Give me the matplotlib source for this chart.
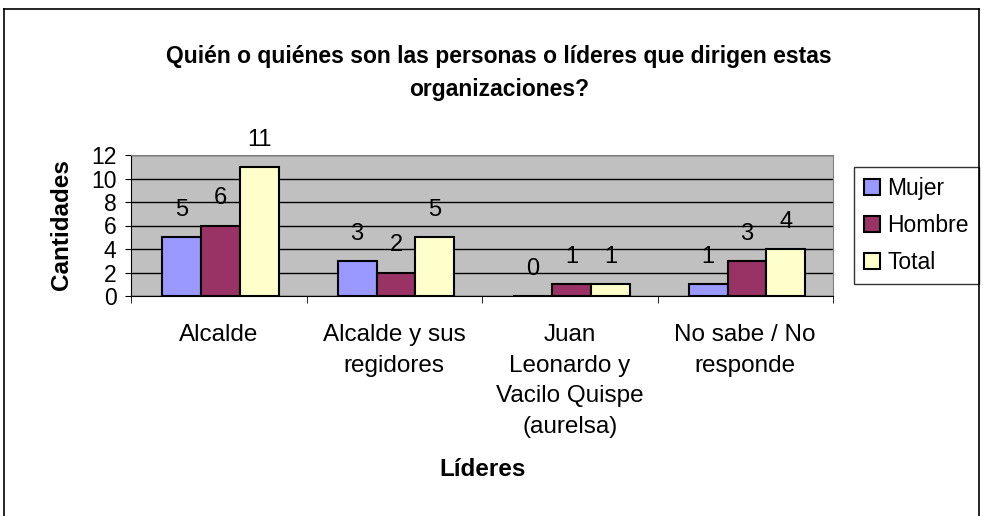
import matplotlib.pyplot as plt
import numpy as np
from matplotlib.lines import Line2D

plt.rcParams['font.family'] = ['Liberation Sans', 'DejaVu Sans']

# data
categories = ['Alcalde', 'Alcalde y sus\nregidores', 'Juan\nLeonardo y\nVacilo Quispe\n(aurelsa)', 'No sabe / No\nresponde']
mujer = [5, 3, 0, 1]
hombre = [6, 2, 1, 3]
total = [11, 5, 1, 4]
series_names = ['Mujer', 'Hombre', 'Total']
colors = ['#9999FF', '#993366', '#FFFFCC']

fig = plt.figure(figsize=(9.83, 5.16), dpi=100)

# outer chart border (left, top, right)
fig.add_artist(Line2D([4 / 983, 4 / 983], [0, 1 - 9 / 516], color='black', lw=1.2))
fig.add_artist(Line2D([4 / 983, 979 / 983], [1 - 9 / 516, 1 - 9 / 516], color='black', lw=1.2))
fig.add_artist(Line2D([979 / 983, 979 / 983], [0, 1 - 9 / 516], color='black', lw=1.2))

ax = fig.add_axes([131 / 983, 1 - 296 / 516, 702 / 983, 141 / 516])
ax.set_facecolor('#C0C0C0')

x = np.arange(len(categories))
w = 0.222
for i, (vals, name, c) in enumerate(zip([mujer, hombre, total], series_names, colors)):
    pos = x + (i - 1) * w + 0.01
    ax.bar(pos, vals, w, color=c, edgecolor='black', linewidth=1.5, label=name, zorder=3)
    for p, v in zip(pos, vals):
        ax.annotate(str(v), (p, v), xytext=(0, 19.5), textcoords='offset points',
                    ha='center', va='center', fontsize=17)

ax.set_xlim(-0.5, len(categories) - 0.5)
ax.set_ylim(0, 12)
ax.set_yticks(range(0, 13, 2))
ax.yaxis.grid(True, color='black', linewidth=1, zorder=0)
ax.tick_params(axis='y', labelsize=16.5, length=4.5, pad=6, direction='out')
ax.set_xticks(x)
ax.set_xticklabels(categories, fontsize=17.5, linespacing=1.52)
ax.set_xticks(np.arange(-0.5, len(categories), 1), minor=True)
ax.tick_params(axis='x', which='major', length=0, pad=20)
ax.tick_params(axis='x', which='minor', length=5, direction='out')
for s in ['top', 'right']:
    ax.spines[s].set_color('#808080')
ax.spines['left'].set_color('black')
ax.spines['bottom'].set_color('black')

fig.text(62 / 983, 1 - 225 / 516, 'Cantidades', fontsize=17.5, fontweight='bold',
         rotation=90, ha='center', va='center')
fig.text(483 / 983, 1 - 469 / 516, 'Líderes', fontsize=17.5, fontweight='bold', ha='center', va='center')
fig.text(499 / 983, 1 - 73 / 516, 'Quién o quiénes son las personas o líderes que dirigen estas\norganizaciones?',
         fontsize=16.5, fontweight='bold', ha='center', va='center', linespacing=1.55)

leg = ax.legend(loc='upper right', bbox_to_anchor=(979 / 983, 1 - 167 / 516), bbox_transform=fig.transFigure,
                fontsize=16.5, frameon=True, fancybox=False, edgecolor='black', handlelength=0.7,
                handleheight=0.7, handletextpad=0.3, labelspacing=0.6, borderpad=0.45, borderaxespad=0)
leg.get_frame().set_linewidth(1)
for h in leg.legend_handles:
    h.set_linewidth(1.5)

fig.savefig('out.png', dpi=100)
